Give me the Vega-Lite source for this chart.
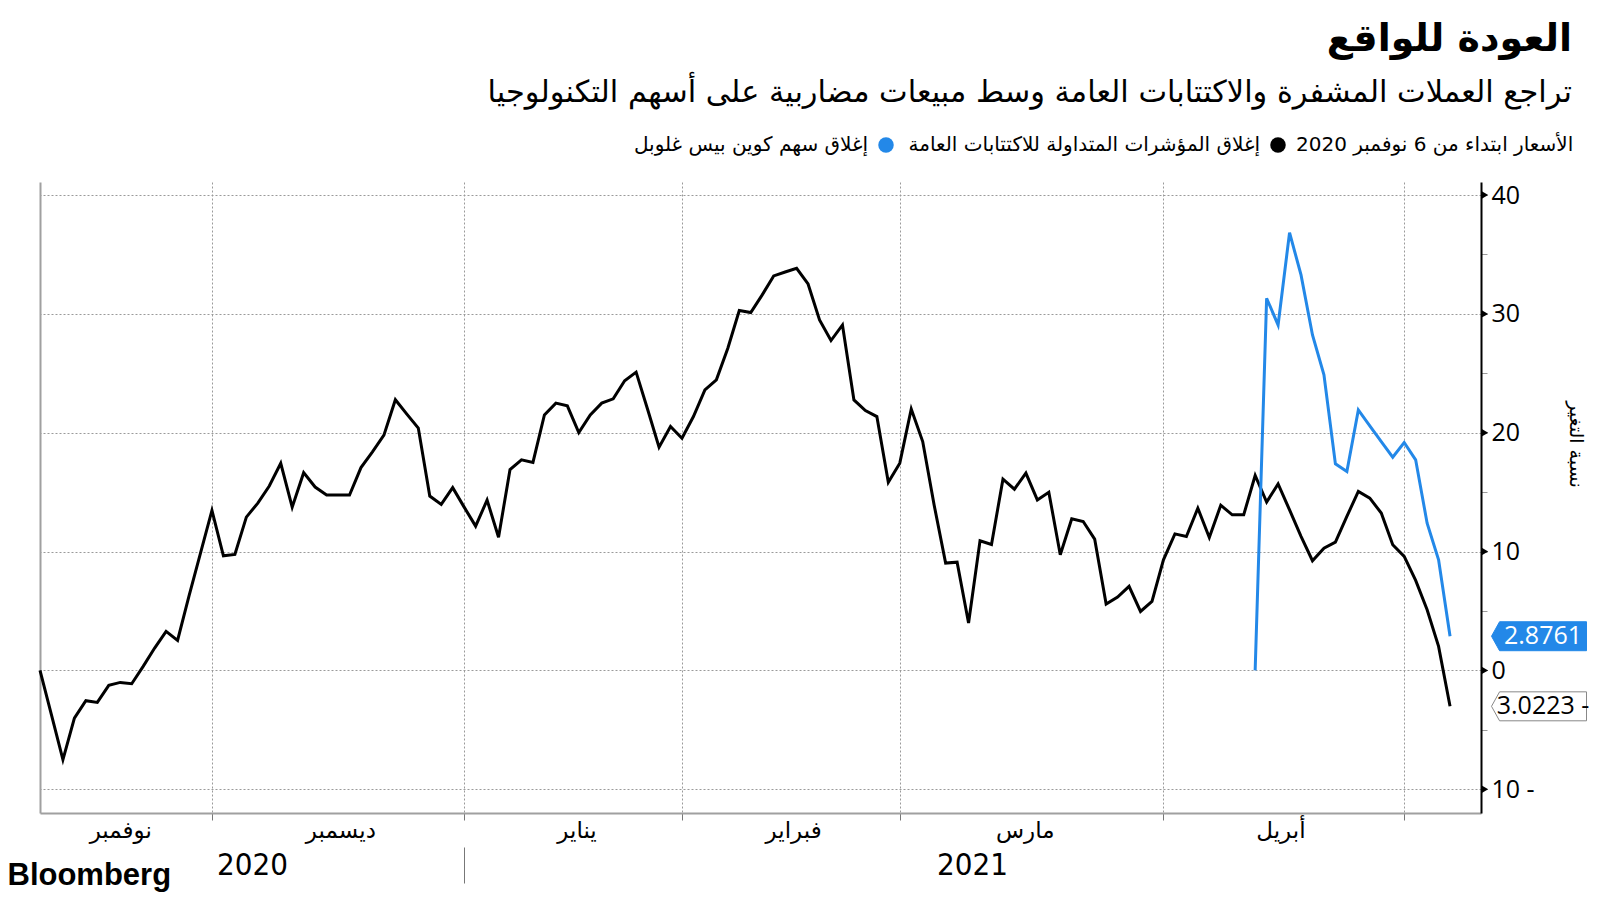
{
  "$schema": "https://vega.github.io/schema/vega-lite/v6.json",
  "autosize": "none",
  "width": 1441,
  "height": 631,
  "padding": {"left": 40, "top": 182, "right": 119, "bottom": 87},
  "background": "#ffffff",
  "config": {
    "view": {"stroke": null},
    "font": "DejaVu Sans",
    "axis": {"labelColor": "#000", "titleColor": "#000"}
  },
  "title": {
    "text": "العودة للواقع",
    "subtitle": "تراجع العملات المشفرة والاكتتابات العامة وسط مبيعات مضاربية على أسهم التكنولوجيا",
    "anchor": "end",
    "frame": "group",
    "dx": 91,
    "offset": 27,
    "font": "DejaVu Sans",
    "fontSize": 38,
    "fontWeight": "bold",
    "color": "#000",
    "subtitleFont": "DejaVu Sans",
    "subtitleFontSize": 30.4,
    "subtitleColor": "#000",
    "subtitlePadding": 19
  },
  "datasets": {
    "ipo": [
      {"t":0,"v":0},{"t":1,"v":-3.75},{"t":2,"v":-7.51},{"t":3,"v":-4.01},{"t":4,"v":-2.55},{"t":5,"v":-2.69},{"t":6,"v":-1.26},{"t":7,"v":-1.01},{"t":8,"v":-1.12},{"t":9,"v":0.34},
      {"t":10,"v":1.88},{"t":11,"v":3.28},{"t":12,"v":2.53},{"t":13,"v":6.28},{"t":14,"v":9.87},{"t":15,"v":13.46},{"t":16,"v":9.64},{"t":17,"v":9.76},{"t":18,"v":12.9},{"t":19,"v":14.08},
      {"t":20,"v":15.52},{"t":21,"v":17.43},{"t":22,"v":13.74},{"t":23,"v":16.64},{"t":24,"v":15.43},{"t":25,"v":14.76},{"t":26,"v":14.76},{"t":27,"v":14.76},{"t":28,"v":17.07},{"t":29,"v":18.39},
      {"t":30,"v":19.8},{"t":31,"v":22.78},{"t":32,"v":21.57},{"t":33,"v":20.39},{"t":34,"v":14.67},{"t":35,"v":13.97},{"t":36,"v":15.38},{"t":37,"v":13.74},{"t":38,"v":12.14},{"t":39,"v":14.33},
      {"t":40,"v":11.21},{"t":41,"v":16.9},{"t":42,"v":17.72},{"t":43,"v":17.5},{"t":44,"v":21.5},{"t":45,"v":22.49},{"t":46,"v":22.26},{"t":47,"v":20.02},{"t":48,"v":21.5},{"t":49,"v":22.49},
      {"t":50,"v":22.85},{"t":51,"v":24.37},{"t":52,"v":25.1},{"t":53,"v":21.98},{"t":54,"v":18.78},{"t":55,"v":20.52},{"t":56,"v":19.54},{"t":57,"v":21.36},{"t":58,"v":23.6},{"t":59,"v":24.45},
      {"t":60,"v":27.11},{"t":61,"v":30.28},{"t":62,"v":30.11},{"t":63,"v":31.6},{"t":64,"v":33.2},{"t":65,"v":33.53},{"t":66,"v":33.84},{"t":67,"v":32.52},{"t":68,"v":29.49},{"t":69,"v":27.76},
      {"t":70,"v":29.07},{"t":71,"v":22.76},{"t":72,"v":21.87},{"t":73,"v":21.36},{"t":74,"v":15.84},{"t":75,"v":17.44},{"t":76,"v":22.0},{"t":77,"v":19.26},{"t":78,"v":13.9},{"t":79,"v":9.03},
      {"t":80,"v":9.11},{"t":81,"v":3.99},{"t":82,"v":10.91},{"t":83,"v":10.6},{"t":84,"v":16.09},{"t":85,"v":15.25},{"t":86,"v":16.6},{"t":87,"v":14.35},{"t":88,"v":15.0},{"t":89,"v":9.73},
      {"t":90,"v":12.76},{"t":91,"v":12.53},{"t":92,"v":11.05},{"t":93,"v":5.58},{"t":94,"v":6.17},{"t":95,"v":7.07},{"t":96,"v":4.96},{"t":97,"v":5.8},{"t":98,"v":9.31},{"t":99,"v":11.49},
      {"t":100,"v":11.27},{"t":101,"v":13.65},{"t":102,"v":11.19},{"t":103,"v":13.9},{"t":104,"v":13.09},{"t":105,"v":13.09},{"t":106,"v":16.4},{"t":107,"v":14.16},{"t":108,"v":15.7},{"t":109,"v":13.5},
      {"t":110,"v":11.28},{"t":111,"v":9.23},{"t":112,"v":10.29},{"t":113,"v":10.79},{"t":114,"v":12.96},{"t":115,"v":15.06},{"t":116,"v":14.5},{"t":117,"v":13.24},{"t":118,"v":10.57},{"t":119,"v":9.59},
      {"t":120,"v":7.57},{"t":121,"v":5.1},{"t":122,"v":2.02},{"t":123,"v":-3.0223}
    ],
    "coin": [
      {"t":106,"v":0},{"t":107,"v":31.32},{"t":108,"v":29.07},{"t":109,"v":36.84},{"t":110,"v":33.28},{"t":111,"v":28.23},{"t":112,"v":24.87},{"t":113,"v":17.38},{"t":114,"v":16.74},{"t":115,"v":21.92},
      {"t":116,"v":20.58},{"t":117,"v":19.26},{"t":118,"v":17.94},{"t":119,"v":19.18},{"t":120,"v":17.72},{"t":121,"v":12.39},{"t":122,"v":9.31},{"t":123,"v":2.8761}
    ],
    "yticks": [{"v":40},{"v":30},{"v":20},{"v":10},{"v":0},{"v":-10}],
    "ends": [
      {"s":"coin","v":2.8761,"label":"2.8761"},
      {"s":"ipo","v":-3.0223,"label":"3.0223 -"}
    ]
  },
  "layer": [
    {
      "data": {"name": "ipo"},
      "mark": {"type": "line", "strokeWidth": 3, "strokeJoin": "miter"},
      "encoding": {
        "x": {
          "field": "t", "type": "quantitative",
          "scale": {"domain": [0, 125.7], "nice": false, "zero": false},
          "axis": {
            "orient": "bottom", "title": null,
            "values": [15, 37, 56, 75, 98, 119],
            "labels": false,
            "ticks": true, "tickColor": "#777", "tickSize": 7, "tickWidth": 1,
            "grid": true, "gridColor": "#9a9a9a", "gridDash": [2, 2], "gridWidth": 1,
            "domain": true, "domainColor": "#a0a0a0", "domainWidth": 2
          }
        },
        "y": {
          "field": "v", "type": "quantitative",
          "scale": {"domain": [-12, 41.1], "nice": false, "zero": false},
          "axis": {
            "orient": "right",
            "values": [-10, -5, 0, 5, 10, 15, 20, 25, 30, 35, 40],
            "labelExpr": "datum.value % 10 !== 0 ? '' : (datum.value < 0 ? (-datum.value) + ' -' : datum.label)",
            "labelFont": "Open Sans", "labelFontSize": 25, "labelPadding": 4, "labelBaseline": "middle",
            "ticks": true, "tickColor": "#999", "tickSize": 6, "tickWidth": 1,
            "grid": true, "gridColor": "#9a9a9a", "gridDash": [2, 2], "gridWidth": 1,
            "gridOpacity": {"condition": {"test": "datum.value % 10 === 0", "value": 1}, "value": 0},
            "domain": true, "domainColor": "#000", "domainWidth": 2,
            "title": "نسبة التغير", "titleFont": "DejaVu Sans", "titleFontSize": 19, "titleFontWeight": "normal",
            "titleAngle": 90, "titleX": 94, "titleY": 262, "titleAlign": "center", "titleBaseline": "middle"
          }
        },
        "color": {
          "datum": "إغلاق المؤشرات المتداولة للاكتتابات العامة",
          "scale": {
            "domain": ["إغلاق سهم كوين بيس غلوبل", "إغلاق المؤشرات المتداولة للاكتتابات العامة"],
            "range": ["#2388e8", "#000000"]
          },
          "legend": {
            "title": "الأسعار ابتداء من 6 نوفمبر 2020",
            "orient": "none", "legendX": 836, "legendY": -47,
            "direction": "horizontal",
            "titleOrient": "right", "titleFont": "DejaVu Sans", "titleFontSize": 20, "titleFontWeight": "normal", "titleColor": "#000", "titlePadding": 10, "titleLimit": 800,
            "labelFont": "DejaVu Sans", "labelFontSize": 20, "labelColor": "#000", "labelLimit": 800,
            "labelAlign": "right", "labelOffset": -28,
            "symbolType": "circle", "symbolSize": 240, "symbolStrokeWidth": 0,
            "columnPadding": 14,
            "encode": {"symbols": {"update": {"fill": {"scale": "color", "field": "value"}, "stroke": {"value": "transparent"}}}}
          }
        }
      }
    },
    {
      "data": {"name": "coin"},
      "mark": {"type": "line", "strokeWidth": 3, "strokeJoin": "miter"},
      "encoding": {
        "x": {
          "field": "t", "type": "quantitative",
          "axis": {
            "orient": "bottom", "title": null,
            "values": [7, 26.2, 46.8, 65.7, 85.9, 108.2],
            "labelExpr": "datum.value == 7 ? 'نوفمبر' : datum.value == 26.2 ? 'ديسمبر' : datum.value == 46.8 ? 'يناير' : datum.value == 65.7 ? 'فبراير' : datum.value == 85.9 ? 'مارس' : 'أبريل'",
            "labelFont": "DejaVu Sans", "labelFontSize": 23, "labelPadding": 6,
            "ticks": false, "grid": false, "domain": false
          }
        },
        "y": {
          "field": "v", "type": "quantitative",
          "axis": {
            "orient": "left", "title": null, "labels": false, "ticks": false, "grid": false,
            "domain": true, "domainColor": "#a0a0a0", "domainWidth": 2
          }
        },
        "color": {"datum": "إغلاق سهم كوين بيس غلوبل", "legend": null}
      }
    },
    {
      "data": {"name": "yticks"},
      "mark": {"type": "point", "shape": "triangle-right", "filled": true, "size": 55, "color": "#000", "opacity": 1, "xOffset": 4},
      "encoding": {
        "x": {
          "datum": 125.7, "type": "quantitative",
          "axis": {
            "orient": "bottom", "offset": 34,
            "values": [18.5, 37, 81.3],
            "labelExpr": "datum.value == 18.5 ? '2020' : datum.value == 81.3 ? '2021' : ''",
            "labelFont": "'DejaVu Sans Condensed', Roboto, sans-serif", "labelFontSize": 31, "labelPadding": -33,
            "ticks": true, "tickSize": 36, "tickWidth": 1,
            "tickColor": {"condition": {"test": "datum.value == 37", "value": "#777"}, "value": "transparent"},
            "grid": false, "domain": false,
            "title": "Bloomberg", "titleFont": "Liberation Sans", "titleFontSize": 31, "titleFontWeight": "bold",
            "titleAnchor": "start", "titleAlign": "left", "titleBaseline": "alphabetic",
            "titleX": -33, "titleY": 37
          }
        },
        "y": {"field": "v", "type": "quantitative", "axis": null}
      }
    },
    {
      "data": {"name": "ends"},
      "mark": {"type": "point", "shape": "M-1,0L-0.83,-0.305L1,-0.305L1,0.305L-0.83,0.305Z", "filled": true, "size": 9025, "opacity": 1, "strokeWidth": 1, "xOffset": 58},
      "encoding": {
        "x": {"datum": 125.7, "type": "quantitative", "axis": null},
        "y": {"field": "v", "type": "quantitative", "axis": null},
        "fill": {"condition": {"test": "datum.s === 'coin'", "value": "#2388e8"}, "value": "#ffffff"},
        "stroke": {"condition": {"test": "datum.s === 'coin'", "value": "#2388e8"}, "value": "#888888"}
      }
    },
    {
      "data": {"name": "ends"},
      "mark": {"type": "text", "font": "Open Sans", "fontSize": 25, "align": "center", "baseline": "middle", "xOffset": 62},
      "encoding": {
        "x": {"datum": 125.7, "type": "quantitative", "axis": null},
        "y": {"field": "v", "type": "quantitative", "axis": null},
        "text": {"field": "label"},
        "color": {"condition": {"test": "datum.s === 'coin'", "value": "#ffffff"}, "value": "#000000"}
      }
    }
  ],
  "resolve": {"axis": {"x": "independent", "y": "independent"}}
}
